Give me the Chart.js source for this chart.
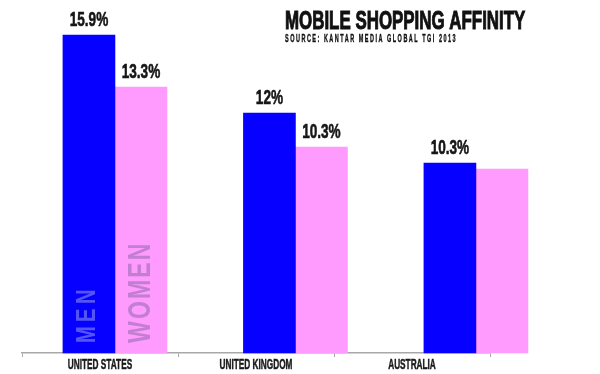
<!DOCTYPE html>
<html>
<head>
<meta charset="utf-8">
<title>Mobile Shopping Affinity</title>
<script src="https://cdn.jsdelivr.net/npm/chart.js@4/dist/chart.umd.min.js"></script>
<style>
    html, body { margin: 0; padding: 0; background: #fff; }
    #shopChart { display: block; }
</style>
</head>
<body>
<canvas id="shopChart" width="600" height="374"></canvas>
<script>
const countries = ['UNITED STATES', 'UNITED KINGDOM', 'AUSTRALIA'];
const countryIndex = [0, 1, 2];
const menValues = [15.9, 12, 9.5];
const womenValues = [13.3, 10.3, 9.2];
const menLabels = ['15.9%', '12%', '10.3%'];
const womenLabels = ['13.3%', '10.3%', ''];
const titleText = 'MOBILE SHOPPING AFFINITY';
const sourceText = 'SOURCE: KANTAR MEDIA GLOBAL TGI 2013';

const FONT = "'Liberation Sans', Arial, sans-serif";

// squeeze text horizontally, the original uses a very narrow poster font
function narrowText(ctx, text, x, y, sx, align, weight) {
    ctx.save();
    ctx.translate(x, y);
    ctx.scale(sx, 1);
    ctx.textAlign = align;
    ctx.textBaseline = 'alphabetic';
    ctx.fillText(text, 0, 0);
    if (weight) {
        ctx.strokeStyle = ctx.fillStyle;
        ctx.lineWidth = weight;
        ctx.strokeText(text, 0, 0);
    }
    ctx.restore();
}

const textPlugin = {
    id: 'posterText',
    afterDatasetsDraw(chart) {
        const ctx = chart.ctx;
        const base = chart.scales.y.getPixelForValue(0);

        // value labels above the bars
        ctx.fillStyle = '#161616';
        ctx.font = 'bold 20px ' + FONT;
        [menLabels, womenLabels].forEach((labels, di) => {
            chart.getDatasetMeta(di).data.forEach((bar, i) => {
                if (labels[i]) narrowText(ctx, labels[i], bar.x, bar.y - 9, 0.68, 'center', 0.6);
            });
        });

        // MEN / WOMEN written up the first pair of bars
        const sideWords = [
            { word: 'MEN', colour: '#5555f6', size: 28, sx: 0.72, spacing: '6px', dx: 6 },
            { word: 'WOMEN', colour: '#c27fd2', size: 32, sx: 0.72, spacing: '3px', dx: 9 },
        ];
        sideWords.forEach((w, di) => {
            const bar = chart.getDatasetMeta(di).data[0];
            ctx.save();
            ctx.translate(bar.x + w.dx, base - 10);
            ctx.rotate(-Math.PI / 2);
            ctx.scale(w.sx, 1);
            ctx.font = 'bold ' + w.size + 'px ' + FONT;
            ctx.letterSpacing = w.spacing;
            ctx.fillStyle = w.colour;
            ctx.textAlign = 'left';
            ctx.textBaseline = 'alphabetic';
            ctx.fillText(w.word, 0, 0);
            ctx.restore();
        });

        // category names under the axis
        const xs = chart.scales.x;
        ctx.fillStyle = '#1a1a1a';
        ctx.font = 'bold 15px ' + FONT;
        countries.forEach((name, i) => {
            narrowText(ctx, name, xs.getPixelForTick(i), base + 16, 0.55, 'center', 0.5);
        });

        // title block
        ctx.fillStyle = '#111';
        ctx.font = 'bold 26px ' + FONT;
        narrowText(ctx, titleText, 285, 29, 0.65, 'left', 1);
        ctx.save();
        ctx.font = 'bold 11px ' + FONT;
        ctx.letterSpacing = '3px';
        narrowText(ctx, sourceText, 285, 42, 0.5, 'left', 0.4);
        ctx.restore();
    }
};

document.addEventListener('DOMContentLoaded', function () {
    const ctx = document.getElementById('shopChart').getContext('2d');

    new Chart(ctx, {
        type: 'bar',
        data: {
            datasets: [{
                label: 'Men',
                data: countryIndex.map((x, i) => ({ x: x, y: menValues[i] })),
                backgroundColor: '#0500ff',
                xAxisID: 'xb',
                clip: false,
            }, {
                label: 'Women',
                data: countryIndex.map((x, i) => ({ x: x, y: womenValues[i] })),
                backgroundColor: '#ff9bff',
                xAxisID: 'xb',
                clip: false,
            }]
        },
        options: {
            responsive: false,
            animation: false,
            barThickness: 52,
            layout: { padding: { top: 13, left: 22, right: 110, bottom: 17 } },
            plugins: {
                legend: { display: false },
                tooltip: { enabled: false },
            },
            scales: {
                xb: {
                    type: 'linear',
                    display: false,
                    min: -0.515,
                    max: 2.078,
                    offset: false,
                },
                x: {
                    type: 'category',
                    labels: countries,
                    position: 'bottom',
                    offset: true,
                    grid: { offset: true, drawOnChartArea: false, tickLength: 4, color: '#a8a8a8' },
                    border: { color: '#a8a8a8', width: 1.5 },
                    ticks: { display: false },
                },
                y: {
                    display: false,
                    min: 0,
                    max: 17,
                }
            }
        },
        plugins: [textPlugin]
    });
});
</script>
</body>
</html>
